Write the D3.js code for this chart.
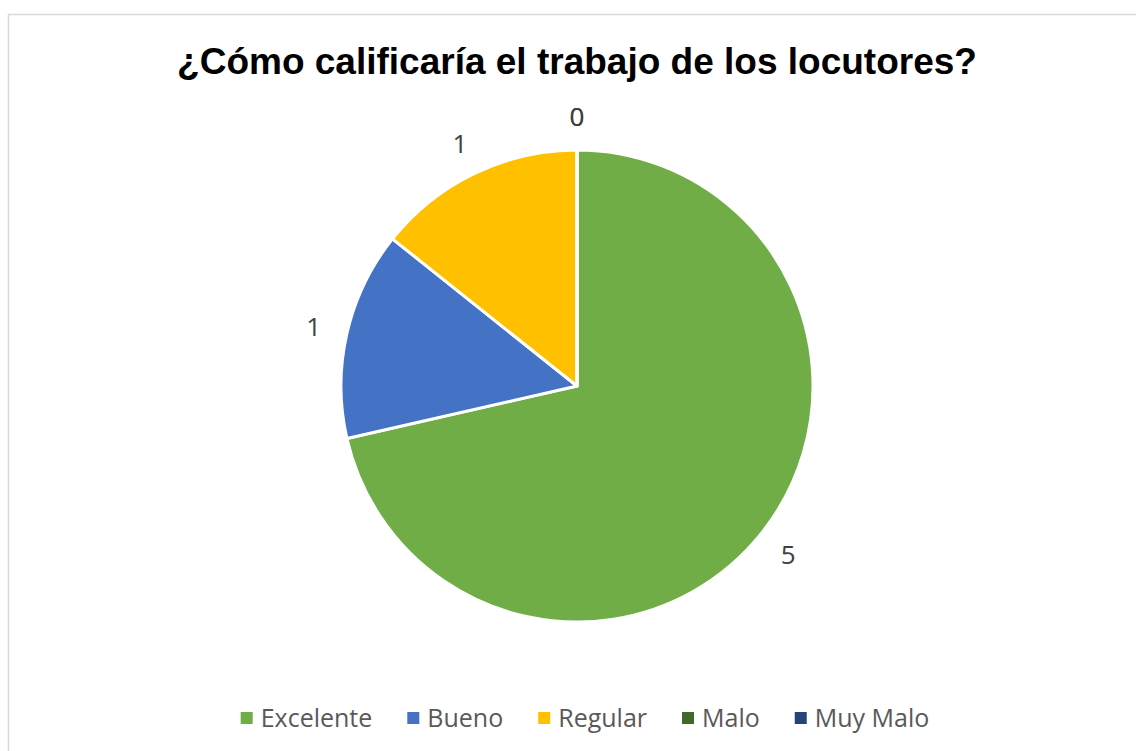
<!DOCTYPE html>
<html>
<head>
<meta charset="utf-8">
<script src="https://cdn.jsdelivr.net/npm/d3@7"></script>
<style>
  body { margin: 0; background: #fff; }
  svg { display: block; }
</style>
</head>
<body>
<div id="chart"></div>
<script>
// data
const categories = ["Excelente", "Bueno", "Regular", "Malo", "Muy Malo"];
const values = [5, 1, 1, 0, 0];
const colors = ["#70AD47", "#4472C4", "#FFC000", "#43682B", "#264478"];
const title = "¿Cómo calificaría el trabajo de los locutores?";

const width = 1136, height = 751;
const cx = 577, cy = 386, radius = 236;

const svg = d3.select("#chart").append("svg")
  .attr("width", width).attr("height", height);

// chart frame
svg.append("rect")
  .attr("x", 8.5).attr("y", 14.5)
  .attr("width", 1140).attr("height", 760)
  .attr("fill", "#fff").attr("stroke", "#D9D9D9").attr("stroke-width", 1.5);

svg.append("text")
  .attr("x", 577).attr("y", 74)
  .attr("text-anchor", "middle")
  .attr("font-family", "Liberation Sans, Arial, sans-serif")
  .attr("font-weight", "bold")
  .attr("font-size", 37)
  .attr("fill", "#000")
  .text(title);

const pie = d3.pie().sort(null).value(d => d)(values);
const arc = d3.arc().innerRadius(0).outerRadius(radius);
const labelArc = d3.arc().innerRadius(270).outerRadius(270);

const g = svg.append("g").attr("transform", `translate(${cx},${cy})`);

g.selectAll("path")
  .data(pie)
  .enter().append("path")
    .attr("d", arc)
    .attr("fill", (d, i) => colors[i])
    .attr("stroke", "#fff")
    .attr("stroke-width", 3)
    .attr("stroke-linejoin", "round");

g.selectAll("text.lbl")
  .data(pie)
  .enter().append("text")
    .attr("class", "lbl")
    .attr("transform", d => `translate(${labelArc.centroid(d)})`)
    .attr("text-anchor", "middle")
    .attr("dominant-baseline", "central")
    .attr("font-family", "Open Sans, sans-serif")
    .attr("font-size", 26)
    .attr("fill", "#404040")
    .text(d => d.data);

// legend, laid out left to right and centred
const legend = svg.append("g");
let x = 0;
categories.forEach(function(c, i) {
  const item = legend.append("g").attr("transform", `translate(${x},0)`);
  item.append("rect")
    .attr("x", 0).attr("y", -15)
    .attr("width", 12).attr("height", 12)
    .attr("fill", colors[i]);
  const t = item.append("text")
    .attr("x", 20).attr("y", 0)
    .attr("font-family", "Open Sans, sans-serif")
    .attr("font-size", 25)
    .attr("fill", "#595959")
    .text(c);
  x += 20 + t.node().getComputedTextLength() + 35;
});
const total = x - 35;
legend.attr("transform", `translate(${585 - total / 2},727)`);
</script>
</body>
</html>
